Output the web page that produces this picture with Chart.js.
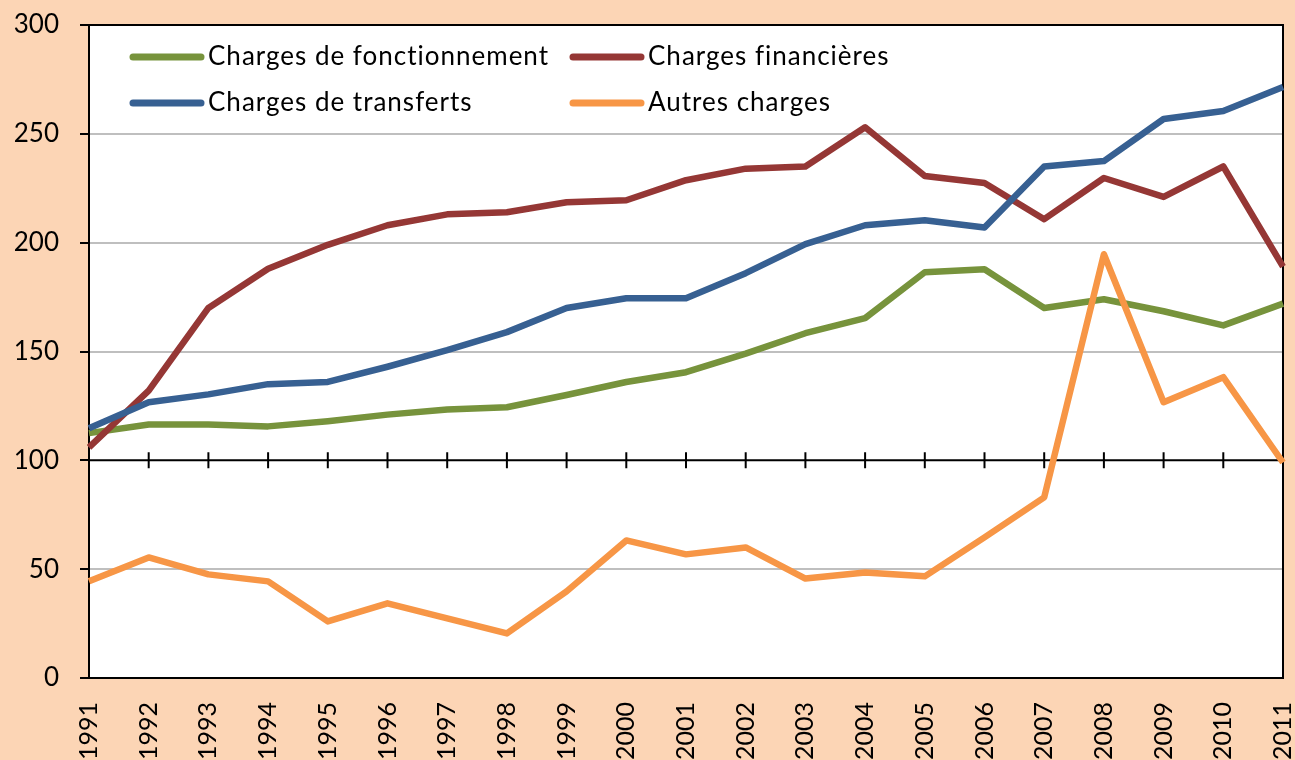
<!DOCTYPE html>
<html>
<head>
<meta charset="utf-8">
<script src="https://cdn.jsdelivr.net/npm/chart.js@4.4.1/dist/chart.umd.min.js"></script>
<style>
  body { margin: 0; background: #FCD5B5; }
  #wrap { width: 1295px; height: 760px; }
</style>
</head>
<body>
<div id="wrap"><canvas id="canvas" width="1295" height="760"></canvas></div>
<script>
// data
var years = ["1991", "1992", "1993", "1994", "1995", "1996", "1997", "1998", "1999", "2000",
  "2001", "2002", "2003", "2004", "2005", "2006", "2007", "2008", "2009", "2010", "2011"];
var fonctionnement = [112.5, 116.5, 116.5, 115.6, 118, 121, 123.4, 124.4, 130, 136,
  140.5, 149, 158.4, 165.3, 186.4, 187.8, 170, 174, 168.5, 162, 172];
var financieres = [106, 132, 170, 188, 199, 208, 213, 214, 218.6, 219.5,
  228.7, 234, 235, 253, 230.6, 227.4, 210.8, 229.7, 221, 235, 189];
var transferts = [114.7, 126.7, 130.3, 135, 136, 143, 150.6, 158.9, 170, 174.5,
  174.5, 186, 199.3, 208, 210.3, 207, 235, 237.5, 256.8, 260.5, 271.5];
var autres = [44.4, 55.4, 47.6, 44.4, 26, 34.3, 27.4, 20.5, 39.8, 63.2,
  56.8, 60, 45.7, 48.5, 46.7, 64.6, 83, 194.7, 126.7, 138.2, 99];
var yTicks = [0, 50, 100, 150, 200, 250, 300];

var FONT = "Lato, 'Liberation Sans', Arial, sans-serif";

// white plot area
var plotBg = {
  id: "plotBg",
  beforeDraw: function (chart) {
    var a = chart.chartArea, c = chart.ctx;
    c.save();
    c.fillStyle = "#FFFFFF";
    c.fillRect(a.left, a.top, a.right - a.left, a.bottom - a.top);
    c.restore();
  },
};

// axis line at 100 with crossing ticks, plus top/right frame
var axisAt100 = {
  id: "axisAt100",
  beforeDatasetsDraw: function (chart) {
    var a = chart.chartArea, c = chart.ctx;
    var x = chart.scales.x, y = chart.scales.y;
    var y100 = y.getPixelForValue(100);
    c.save();
    c.strokeStyle = "#000";
    c.lineWidth = 2;
    c.beginPath();
    c.moveTo(a.left, y100);
    c.lineTo(a.right, y100);
    for (var i = 1; i < years.length - 1; i++) {
      var px = x.getPixelForValue(i);
      c.moveTo(px, y100 - 8);
      c.lineTo(px, y100 + 8);
    }
    c.moveTo(a.left - 1, a.top);
    c.lineTo(a.right + 1, a.top);
    c.moveTo(a.right, a.top);
    c.lineTo(a.right, a.bottom);
    c.stroke();
    c.restore();
  },
};

// legend in two columns inside the plot
var legendGrid = {
  id: "legendGrid",
  afterDraw: function (chart) {
    var c = chart.ctx;
    var ds = chart.data.datasets;
    var spots = [
      { i: 0, x: 133, y: 57 },
      { i: 1, x: 573, y: 57 },
      { i: 2, x: 133, y: 103 },
      { i: 3, x: 573, y: 103 },
    ];
    c.save();
    c.font = "26px " + FONT;
    c.textBaseline = "middle";
    c.fillStyle = "#000";
    if ("letterSpacing" in c) c.letterSpacing = "1px";
    spots.forEach(function (s) {
      c.strokeStyle = ds[s.i].borderColor;
      c.lineWidth = 7;
      c.lineCap = "round";
      c.beginPath();
      c.moveTo(s.x, s.y);
      c.lineTo(s.x + 68, s.y);
      c.stroke();
      c.fillText(ds[s.i].label, s.x + 75, s.y);
    });
    c.restore();
  },
};

var ctx = document.getElementById("canvas").getContext("2d");
var myChart = new Chart(ctx, {
  type: "line",
  data: {
    labels: years,
    datasets: [
      { label: "Charges de fonctionnement", data: fonctionnement, borderColor: "#77933C", order: 3 },
      { label: "Charges financières", data: financieres, borderColor: "#953735", order: 2 },
      { label: "Charges de transferts", data: transferts, borderColor: "#376092", order: 1 },
      { label: "Autres charges", data: autres, borderColor: "#F79646", order: 0 },
    ],
  },
  options: {
    responsive: false,
    animation: false,
    layout: { padding: { top: 25, right: 12, left: 0, bottom: 0 } },
    elements: {
      line: { borderWidth: 6.5, tension: 0, borderJoinStyle: "round", fill: false },
      point: { radius: 0, hoverRadius: 0 },
    },
    plugins: {
      legend: { display: false },
      tooltip: { enabled: false },
    },
    scales: {
      x: {
        type: "category",
        grid: { display: true, drawOnChartArea: false, drawTicks: false },
        border: { display: true, color: "#000", width: 2 },
        ticks: {
          autoSkip: false,
          minRotation: 90,
          maxRotation: 90,
          padding: 24,
          color: "#000",
          font: { family: FONT, size: 25 },
        },
        afterFit: function (scale) {
          scale.height = 82;
          scale.paddingLeft = 0;
          scale.paddingRight = 0;
        },
      },
      y: {
        min: 0,
        max: 300,
        afterBuildTicks: function (scale) {
          scale.ticks = yTicks.map(function (v) { return { value: v }; });
        },
        grid: {
          color: function (c) {
            var v = c.tick && c.tick.value;
            return (v === 0 || v === 100 || v === 300) ? "rgba(0,0,0,0)" : "#BFBFBF";
          },
          lineWidth: 2,
          tickColor: "#000",
          tickLength: 9,
        },
        border: { display: true, color: "#000", width: 2 },
        ticks: {
          padding: 21,
          color: "#000",
          font: { family: FONT, size: 26 },
        },
        afterFit: function (scale) {
          scale.width = 89;
          scale.paddingTop = 0;
          scale.paddingBottom = 0;
        },
      },
    },
  },
  plugins: [plotBg, axisAt100, legendGrid],
});
</script>
</body>
</html>
